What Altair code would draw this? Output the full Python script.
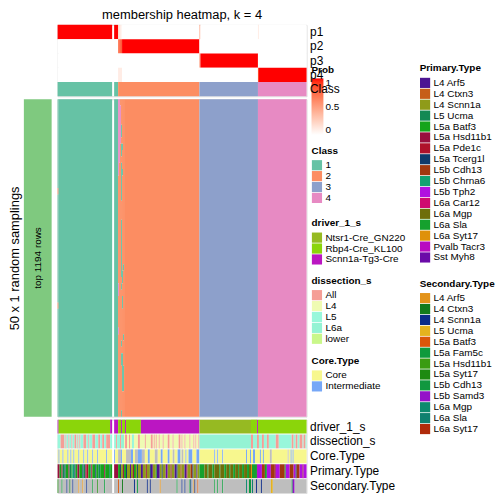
import altair as alt
import pandas as pd

FONT = "Liberation Sans"

# ---------------- text ----------------
TITLE = "membership heatmap, k = 4"
ROW_TITLE = "50 x 1 random samplings"
SLICE_LABEL = "top 1194 rows"

# ---------------- data ----------------
N_RUNS = 50          # random samplings (rows of the main heatmap)
N_LEFT = 55          # columns in the first column slice
N_RIGHT = 194        # columns in the second column slice

CLASS_LEVELS = ["1", "2", "3", "4"]
CLASS_COLORS = ["#66C2A5", "#FC8D62", "#8DA0CB", "#E78AC3"]
CLASS_RUNS = [("1", 55), ("1", 4), ("2", 82), ("3", 59), ("4", 49)]

PROB_TRACKS = ["p1", "p2", "p3", "p4"]
P1_RUNS = [(1.0, 55), (1.0, 4), (0.2, 1), (0.15, 1), (0.1, 1), (0.05, 1), (0.0, 78),
           (0.45, 1), (0.0, 58), (0.1, 1), (0.0, 48)]
P2_RUNS = [(0.0, 55), (0.0, 4), (0.7, 1), (0.75, 1), (0.8, 1), (0.85, 1), (1.0, 78), (0.0, 108)]
P3_RUNS = [(0.0, 55), (0.0, 86), (0.55, 1), (1.0, 58), (0.0, 49)]
P4_RUNS = [(0.0, 55), (0.0, 4), (0.1, 4), (0.0, 137), (0.9, 1), (1.0, 48)]

# sampling-level deviations from the consensus class: (column, first run, last run, class)
MAIN_EXCEPTIONS = [
    (0, 14, 14, "2"), (0, 32, 32, "2"),
    (59, 0, 11, "4"), (59, 29, 30, "4"), (59, 36, 36, "4"),
    (60, 0, 9, "4"),
    (61, 1, 6, "4"),
    (62, 4, 5, "1"), (62, 7, 8, "1"), (62, 10, 15, "1"), (62, 19, 27, "1"), (62, 29, 29, "1"),
    (62, 38, 38, "1"), (62, 40, 41, "1"), (62, 49, 49, "1"),
    (63, 7, 7, "1"), (63, 11, 11, "1"), (63, 27, 28, "1"), (63, 31, 32, "1"), (63, 40, 45, "1"),
    (64, 26, 26, "1"), (64, 37, 37, "1"), (64, 42, 45, "1"),
]

DRIVER_LEVELS = ["Ntsr1-Cre_GN220", "Rbp4-Cre_KL100", "Scnn1a-Tg3-Cre"]
DRIVER_COLORS = ["#96BA22", "#8BD50A", "#BB16C2"]
DRIVER_CODES = {"N": "Ntsr1-Cre_GN220", "R": "Rbp4-Cre_KL100", "S": "Scnn1a-Tg3-Cre"}
DRIVER_RUNS = [("S", 1), ("R", 52), ("S", 2),
               ("S", 4), ("R", 3), ("S", 1), ("R", 3), ("S", 1), ("R", 15), ("S", 59),
               ("N", 52), ("R", 6), ("S", 1), ("R", 49)]

DISSECTION_LEVELS = ["All", "L4", "L5", "L6a", "lower"]
DISSECTION_COLORS = ["#F59E96", "#EFFBB3", "#98F7DB", "#94F3D4", "#C9F78A"]
DISSECTION_CODES = {"A": "All", "4": "L4", "5": "L5", "6": "L6a", "w": "lower"}
DISSECTION_RUNS = [
    ("5", 3), ("A", 4), ("5", 1), ("A", 1), ("5", 2), ("A", 1), ("5", 2), ("A", 1), ("5", 2),
    ("A", 2), ("5", 1), ("A", 1), ("5", 1), ("A", 1), ("5", 3), ("A", 3), ("5", 2), ("A", 1),
    ("5", 3), ("A", 3), ("5", 3), ("A", 2), ("5", 2), ("A", 2), ("5", 2), ("A", 4), ("5", 2),
    ("5", 2), ("A", 1), ("5", 3), ("A", 1), ("6", 3), ("4", 1), ("A", 2), ("4", 2), ("A", 1),
    ("4", 2), ("5", 2), ("4", 4), ("A", 2), ("4", 5), ("A", 1), ("4", 5), ("A", 2), ("4", 1),
    ("A", 1), ("4", 1), ("A", 1), ("4", 2), ("A", 1), ("4", 3), ("A", 1), ("4", 4), ("A", 2),
    ("4", 3), ("A", 1), ("4", 5), ("A", 2), ("4", 1), ("A", 1), ("4", 2), ("A", 1), ("4", 4),
    ("A", 1), ("4", 3), ("A", 1), ("4", 1), ("A", 1), ("4", 2), ("A", 1),
    ("6", 52), ("A", 2), ("5", 4), ("A", 2), ("5", 3), ("A", 2), ("5", 3), ("A", 2), ("5", 7),
    ("A", 3), ("5", 13), ("A", 2), ("5", 2), ("A", 2), ("5", 2), ("A", 3), ("5", 1), ("A", 2),
    ("5", 1),
]

CORE_LEVELS = ["Core", "Intermediate", "NA"]
CORE_COLORS = ["#F7F78E", "#76A7F7", "#BEBEBE"]
CORE_CODES = {"C": "Core", "I": "Intermediate", "n": "NA"}
CORE_RUNS = [
    ("C", 1), ("I", 1), ("C", 3), ("I", 1), ("C", 4), ("I", 1), ("C", 2), ("I", 1), ("C", 2),
    ("I", 1), ("C", 4), ("I", 1), ("C", 4), ("I", 1), ("C", 3), ("I", 1), ("C", 4), ("I", 1),
    ("C", 4), ("I", 1), ("C", 8), ("I", 1), ("C", 5),
    ("I", 1), ("C", 3), ("n", 3), ("I", 1), ("C", 4), ("n", 5), ("I", 2), ("C", 2), ("n", 3),
    ("I", 4), ("n", 3), ("C", 3), ("I", 2), ("C", 5), ("n", 3), ("C", 3), ("I", 2), ("C", 5),
    ("I", 2), ("C", 3), ("n", 2), ("C", 3), ("I", 3), ("C", 1), ("n", 2), ("C", 2), ("I", 1),
    ("C", 2), ("I", 4), ("C", 4), ("I", 3), ("C", 15), ("I", 1), ("C", 2), ("I", 1), ("C", 4),
    ("I", 1), ("C", 23), ("I", 1), ("C", 3), ("I", 1), ("C", 2), ("I", 2), ("C", 5), ("I", 1),
    ("C", 2), ("I", 1), ("C", 6), ("n", 2), ("C", 16), ("n", 1), ("C", 2), ("I", 1), ("C", 1),
    ("I", 1), ("C", 13),
]

PRIMARY_LEVELS = ["L4 Arf5", "L4 Ctxn3", "L4 Scnn1a", "L5 Ucma", "L5a Batf3", "L5a Hsd11b1",
                  "L5a Pde1c", "L5a Tcerg1l", "L5b Cdh13", "L5b Chrna6", "L5b Tph2",
                  "L6a Car12", "L6a Mgp", "L6a Sla", "L6a Syt17", "Pvalb Tacr3", "Sst Myh8"]
PRIMARY_COLORS = ["#4C1592", "#C65E18", "#8F9B19", "#138954", "#16A41B", "#990F3E",
                  "#AF112B", "#0F3A6B", "#A1380F", "#12A170", "#B010E0", "#CF0B70",
                  "#6E6E0B", "#15A12E", "#DF910B", "#B80BC1", "#6B0BA8"]
PRIMARY_CODES = dict(zip("abcdefghijklmnopq", PRIMARY_LEVELS))
PRIMARY_RUNS = [
    ("f", 2), ("e", 2), ("g", 1), ("d", 2), ("h", 1), ("e", 3), ("f", 1), ("d", 2), ("e", 1),
    ("j", 2), ("h", 1), ("e", 2), ("f", 2), ("e", 3), ("h", 1), ("d", 2), ("f", 1), ("g", 2),
    ("e", 2), ("d", 1), ("g", 1), ("e", 3), ("h", 1), ("e", 2), ("d", 2), ("e", 4), ("f", 1),
    ("e", 4), ("d", 1), ("e", 2),
    ("f", 4), ("e", 2), ("h", 1), ("c", 2), ("f", 1), ("e", 2), ("h", 1), ("c", 3), ("a", 1),
    ("c", 2), ("f", 1), ("e", 2), ("c", 1), ("h", 1), ("c", 3), ("a", 2), ("c", 3), ("f", 1),
    ("c", 3), ("h", 1), ("a", 2), ("c", 3), ("e", 1), ("a", 3), ("c", 2), ("h", 1), ("c", 3),
    ("q", 2), ("c", 3), ("f", 1), ("c", 3), ("a", 2), ("h", 1), ("c", 3), ("i", 1), ("c", 3),
    ("a", 2), ("f", 1), ("c", 3), ("i", 2), ("h", 1), ("c", 3), ("a", 1), ("c", 2),
    ("n", 5), ("m", 3), ("n", 1), ("m", 4), ("n", 2), ("m", 5), ("n", 1), ("m", 4), ("n", 2),
    ("m", 3), ("n", 1), ("m", 3), ("n", 2), ("m", 3), ("n", 1), ("m", 3), ("n", 2), ("m", 3),
    ("n", 2), ("m", 2), ("o", 1), ("n", 5), ("p", 1),
    ("k", 4), ("i", 3), ("n", 2), ("k", 4), ("i", 4), ("f", 1), ("k", 4), ("i", 5), ("e", 1),
    ("k", 4), ("i", 4), ("k", 2), ("h", 1), ("i", 3), ("k", 3), ("f", 1), ("k", 3),
]

SECONDARY_LEVELS = ["L4 Arf5", "L4 Ctxn3", "L4 Scnn1a", "L5 Ucma", "L5a Batf3", "L5a Fam5c",
                    "L5a Hsd11b1", "L5a Syt17", "L5b Cdh13", "L5b Samd3", "L6a Mgp",
                    "L6a Sla", "L6a Syt17"]
SECONDARY_COLORS = ["#E3931A", "#137A1C", "#0B2B88", "#E5B21F", "#DA560B", "#0F9A3C",
                    "#3A9C11", "#1E8A11", "#11983F", "#9413C8", "#0D8A6E", "#0F806F", "#B02B0B"]
SECONDARY_CODES = dict(zip("ABCDEFGHIJKLM", SECONDARY_LEVELS))
SECONDARY_CODES["x"] = "NA"
SECONDARY_RUNS = [
    ("H", 1), ("x", 3), ("F", 1), ("x", 4), ("C", 1), ("x", 2), ("B", 1), ("x", 2), ("C", 1),
    ("x", 5), ("A", 1), ("x", 3), ("A", 1), ("x", 3), ("C", 1), ("x", 5), ("F", 1), ("x", 4),
    ("H", 1), ("x", 6), ("F", 1), ("x", 7),
    ("x", 4), ("E", 1), ("x", 3), ("B", 1), ("x", 11), ("C", 1), ("x", 2), ("F", 1), ("x", 9),
    ("C", 1), ("x", 2), ("C", 1), ("x", 9), ("A", 1), ("x", 16), ("F", 1), ("x", 4), ("C", 1),
    ("x", 2), ("C", 1), ("x", 4), ("F", 1), ("C", 1), ("x", 2), ("A", 1), ("C", 1), ("x", 2),
    ("E", 1), ("x", 16), ("F", 1), ("x", 2), ("F", 1), ("x", 4), ("F", 1), ("x", 23), ("K", 1),
    ("x", 2), ("F", 2), ("x", 1), ("L", 1), ("x", 3), ("C", 1), ("x", 4), ("C", 1), ("x", 9),
    ("D", 2), ("x", 19), ("F", 1), ("J", 2), ("x", 12),
]

# ---------------- layout ----------------
SLICE_GAP = 2
N_TOTAL = N_LEFT + N_RIGHT
TOTAL_W = N_TOTAL + SLICE_GAP
TOP_H = 72
MAIN_H = 320
BOT_H = 74


def col_pos(i):
    return i if i < N_LEFT else i + SLICE_GAP


def expand(runs, codes=None):
    out = []
    for v, n in runs:
        out += [codes[v] if codes else v] * n
    assert len(out) == N_TOTAL, (len(out), runs[:3])
    return out


def segments(values, **extra):
    rows = []
    for lo, hi in ((0, N_LEFT), (N_LEFT, N_TOTAL)):
        i = lo
        while i < hi:
            j = i
            while j + 1 < hi and values[j + 1] == values[i]:
                j += 1
            rows.append(dict(x=col_pos(i), x2=col_pos(j) + 1, value=values[i], **extra))
            i = j + 1
    return rows


classes = expand(CLASS_RUNS)

# top tracks
prob_rows = []
for name, runs in zip(PROB_TRACKS, [P1_RUNS, P2_RUNS, P3_RUNS, P4_RUNS]):
    prob_rows += segments(expand(runs), track=name)
prob_df = pd.DataFrame(prob_rows)
class_df = pd.DataFrame(segments(classes, track="Class"))

# main heatmap grid
grid = [list(classes) for _ in range(N_RUNS)]
for c, r0, r1, cls in MAIN_EXCEPTIONS:
    for r in range(r0, r1 + 1):
        grid[r][c] = cls

main_rows = []
for lo, hi in ((0, N_LEFT), (N_LEFT, N_TOTAL)):
    c = lo
    while c < hi:
        col = [grid[r][c] for r in range(N_RUNS)]
        c1 = c
        while c1 + 1 < hi and [grid[r][c1 + 1] for r in range(N_RUNS)] == col:
            c1 += 1
        r = 0
        while r < N_RUNS:
            r1 = r
            while r1 + 1 < N_RUNS and col[r1 + 1] == col[r]:
                r1 += 1
            main_rows.append(dict(x=col_pos(c), x2=col_pos(c1) + 1, y=r, y2=r1 + 1, cls=col[r]))
            r = r1 + 1
        c = c1 + 1
main_df = pd.DataFrame(main_rows)
slice_df = pd.DataFrame([dict(slice=SLICE_LABEL, y=0, y2=N_RUNS, mid=N_RUNS / 2)])

BOT_TRACKS = ["driver_1_s", "dissection_s", "Core.Type", "Primary.Type", "Secondary.Type"]
bot_data = {
    "driver_1_s": expand(DRIVER_RUNS, DRIVER_CODES),
    "dissection_s": expand(DISSECTION_RUNS, DISSECTION_CODES),
    "Core.Type": expand(CORE_RUNS, CORE_CODES),
    "Primary.Type": expand(PRIMARY_RUNS, PRIMARY_CODES),
    "Secondary.Type": expand(SECONDARY_RUNS, SECONDARY_CODES),
}

# ---------------- chart ----------------
def x_enc():
    return alt.X("x:Q", scale=alt.Scale(domain=[0, TOTAL_W], nice=False, zero=False), axis=None)


right_axis = alt.Axis(orient="right", title=None, ticks=False, tickSize=0, domain=False,
                      labelPadding=3, labelFontSize=12, labelColor="black", labelFont=FONT)

top_y = alt.Y("track:N", scale=alt.Scale(domain=PROB_TRACKS + ["Class"], paddingInner=0,
                                        paddingOuter=0), axis=right_axis)

prob_layer = alt.Chart(prob_df).mark_rect().encode(
    x=x_enc(), x2="x2:Q", y=top_y,
    color=alt.Color("value:Q",
                    scale=alt.Scale(domain=[0, 1], range=["#FFFFFF", "#FF0000"], interpolate="lab"),
                    legend=alt.Legend(title="Prob", orient="none", legendX=256, legendY=41,
                                      direction="vertical", gradientLength=57,
                                      gradientThickness=12, values=[0, 0.5, 1], format="~g",
                                      titlePadding=3)),
)
class_top_layer = alt.Chart(class_df).mark_rect().encode(
    x=x_enc(), x2="x2:Q", y=top_y,
    color=alt.Color("value:N", scale=alt.Scale(domain=CLASS_LEVELS, range=CLASS_COLORS),
                    legend=None),
)
top = alt.layer(prob_layer, class_top_layer).resolve_scale(color="independent").properties(
    width=TOTAL_W, height=TOP_H,
    title=alt.TitleParams(TITLE, fontSize=13, fontWeight="normal", font=FONT, color="black",
                          anchor="middle", frame="group", offset=3),
)

main_y_scale = alt.Scale(domain=[0, N_RUNS], reverse=True, nice=False, zero=False)
main_axis = alt.Axis(title=ROW_TITLE, labels=False, ticks=False, domain=False, grid=False,
                     titleFontSize=13, titleFontWeight="normal", titleFont=FONT,
                     titleColor="black", titlePadding=36)

heat = alt.Chart(main_df).mark_rect().encode(
    x=x_enc(), x2="x2:Q",
    y=alt.Y("y:Q", scale=main_y_scale, axis=main_axis), y2="y2:Q",
    color=alt.Color("cls:N", scale=alt.Scale(domain=CLASS_LEVELS, range=CLASS_COLORS),
                    legend=alt.Legend(title="Class", orient="none", legendX=256, legendY=47)),
)
slice_bar = alt.Chart(slice_df).mark_rect(color="#7FC97F").encode(
    x=alt.value(-34), x2=alt.value(-6),
    y=alt.Y("y:Q", scale=main_y_scale, axis=main_axis), y2="y2:Q",
)
slice_text = alt.Chart(slice_df).mark_text(angle=270, fontSize=10, font=FONT, color="black",
                                           align="center", baseline="middle").encode(
    x=alt.value(-20),
    y=alt.Y("mid:Q", scale=main_y_scale, axis=main_axis),
    text="slice:N",
)
main = alt.layer(heat, slice_bar, slice_text).properties(width=TOTAL_W, height=MAIN_H)

bot_y = alt.Y("track:N", scale=alt.Scale(domain=BOT_TRACKS, paddingInner=1 / 15, paddingOuter=0),
              axis=right_axis)

bot_specs = [
    ("driver_1_s", DRIVER_LEVELS, DRIVER_COLORS, DRIVER_LEVELS, 256, -203),
    ("dissection_s", DISSECTION_LEVELS, DISSECTION_COLORS, DISSECTION_LEVELS, 256, -145),
    ("Core.Type", CORE_LEVELS, CORE_COLORS, ["Core", "Intermediate"], 256, -64),
    ("Primary.Type", PRIMARY_LEVELS, PRIMARY_COLORS, PRIMARY_LEVELS, 365, -359),
    ("Secondary.Type", SECONDARY_LEVELS + ["NA"], SECONDARY_COLORS + ["#BEBEBE"],
     SECONDARY_LEVELS, 365, -142),
]
bot_layers = []
for name, levels, colors, shown, lx, ly in bot_specs:
    df = pd.DataFrame(segments(bot_data[name], track=name))
    bot_layers.append(alt.Chart(df).mark_rect().encode(
        x=x_enc(), x2="x2:Q", y=bot_y,
        color=alt.Color("value:N", scale=alt.Scale(domain=levels, range=colors),
                        legend=alt.Legend(title=name, orient="none", legendX=lx, legendY=ly,
                                          values=shown)),
    ))
bottom = alt.layer(*bot_layers).resolve_scale(color="independent").properties(
    width=TOTAL_W, height=BOT_H)

chart = alt.vconcat(top, main, bottom, spacing=3, bounds="flush").resolve_scale(
    x="independent", y="independent", color="independent"
).properties(
    padding={"left": 0, "top": -2, "right": 0, "bottom": 0}
).configure_view(stroke=None).configure(font=FONT).configure_legend(
    titleFont=FONT, labelFont=FONT, titleFontSize=10, labelFontSize=10,
    titleFontWeight="bold", titleColor="black", labelColor="black",
    symbolType="square", symbolSize=105, symbolStrokeWidth=0, symbolOpacity=1,
    rowPadding=0, titlePadding=4, labelOffset=3, padding=0, gradientStrokeWidth=0,
)

chart.save("out.html", embed_options={"renderer": "svg", "actions": False})
